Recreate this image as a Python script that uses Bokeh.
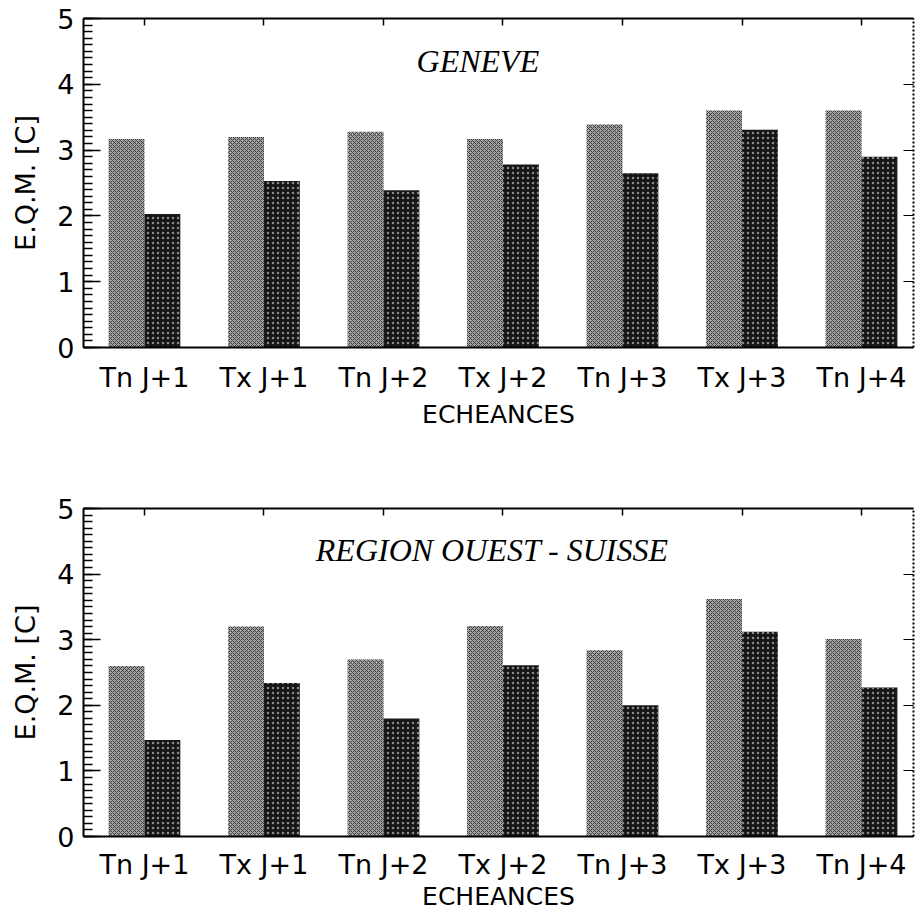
import numpy as np
from bokeh.plotting import figure
from bokeh.layouts import column
from bokeh.models import LinearAxis, FixedTicker, Range1d, Label
from bokeh.embed import file_html
from bokeh.resources import INLINE

categories = ["Tn J+1", "Tx J+1", "Tn J+2", "Tx J+2", "Tn J+3", "Tx J+3", "Tn J+4"]
geneve_light = [3.17, 3.20, 3.28, 3.17, 3.39, 3.60, 3.60]
geneve_dark = [2.03, 2.53, 2.39, 2.78, 2.65, 3.31, 2.90]
region_light = [2.60, 3.20, 2.70, 3.21, 2.84, 3.62, 3.01]
region_dark = [1.47, 2.34, 1.80, 2.61, 2.00, 3.12, 2.27]
y_ticks = [0, 1, 2, 3, 4, 5]
x_title = "ECHEANCES"
y_title = "E.Q.M. [C]"
panel_titles = ["GENEVE", "REGION OUEST - SUISSE"]

TICK_FONT = "DejaVu Sans"
TITLE_FONT = "Liberation Serif"


def make_panel(light, dark, title, title_x, height, border_top, border_bottom,
               tick_standoff, label_standoff):
    pos = np.arange(len(categories))
    p = figure(width=915, height=height, output_backend="svg", toolbar_location=None,
               x_range=Range1d(-0.51, 6.435), y_range=Range1d(0, 5),
               min_border_left=83, min_border_right=2,
               min_border_top=border_top, min_border_bottom=border_bottom,
               x_axis_location=None, y_axis_location=None)
    p.outline_line_color = None
    p.xgrid.visible = False
    p.ygrid.visible = False
    p.background_fill_color = "white"
    p.border_fill_color = "white"

    p.vbar(x=pos - 0.15, top=light, width=0.3, bottom=0,
           fill_color="#a4a4a4", line_color=None,
           hatch_pattern="diagonal_cross", hatch_scale=4, hatch_color="#3c3c3c", hatch_weight=1)
    p.vbar(x=pos + 0.15, top=dark, width=0.3, bottom=0,
           fill_color="#161616", line_color=None,
           hatch_pattern="dot", hatch_scale=5, hatch_color="#8a8a8a", hatch_weight=1)

    labels = {int(i): c for i, c in zip(pos, categories)}

    # bottom axis
    xb = LinearAxis(ticker=FixedTicker(ticks=list(pos)), major_label_overrides=labels)
    xb.major_label_text_font = TICK_FONT
    xb.major_label_text_font_size = "27px"
    xb.major_label_text_color = "black"
    xb.major_label_standoff = tick_standoff
    xb.major_tick_in = 0
    xb.major_tick_out = 0
    xb.minor_tick_in = 0
    xb.minor_tick_out = 0
    xb.axis_line_width = 2
    xb.axis_line_color = "black"
    xb.axis_label = x_title
    xb.axis_label_text_font = TICK_FONT
    xb.axis_label_text_font_size = "25px"
    xb.axis_label_text_font_style = "normal"
    xb.axis_label_text_color = "black"
    xb.axis_label_standoff = label_standoff
    p.add_layout(xb, "below")

    # top axis (ticks only)
    xt = LinearAxis(ticker=FixedTicker(ticks=list(pos)), major_label_text_color=None,
                    major_label_text_font_size="10px", major_label_standoff=0)
    xt.major_tick_in = 7
    xt.major_tick_out = 0
    xt.minor_tick_in = 0
    xt.minor_tick_out = 0
    xt.axis_line_width = 2
    xt.major_tick_line_width = 1.5
    p.add_layout(xt, "above")

    # left axis
    yl = LinearAxis(ticker=FixedTicker(ticks=y_ticks,
                                       minor_ticks=[i / 10 for i in range(0, 51)]))
    yl.axis_label = y_title
    yl.axis_label_text_font = TICK_FONT
    yl.axis_label_text_font_size = "27px"
    yl.axis_label_text_font_style = "normal"
    yl.axis_label_text_color = "black"
    yl.axis_label_standoff = 13
    yl.major_label_text_font = TICK_FONT
    yl.major_label_text_font_size = "27px"
    yl.major_label_text_color = "black"
    yl.major_label_standoff = 9
    yl.major_tick_in = 17
    yl.major_tick_out = 0
    yl.minor_tick_in = 9
    yl.minor_tick_out = 0
    yl.major_tick_line_width = 1.5
    yl.minor_tick_line_width = 1.5
    yl.axis_line_width = 2
    p.add_layout(yl, "left")

    # right axis (dotted, ticks only)
    yr = LinearAxis(ticker=FixedTicker(ticks=y_ticks), major_label_text_color=None,
                    major_label_text_font_size="10px", major_label_standoff=0)
    yr.major_tick_in = 10
    yr.major_tick_out = 0
    yr.minor_tick_in = 0
    yr.minor_tick_out = 0
    yr.axis_line_width = 2
    yr.axis_line_dash = "2 2"
    p.add_layout(yr, "right")

    p.add_layout(Label(x=title_x, y=4.36, text=title, text_align="center",
                       text_baseline="middle", text_font=TITLE_FONT,
                       text_font_style="italic", text_font_size="32px",
                       text_color="black"))
    return p


p1 = make_panel(geneve_light, geneve_dark, panel_titles[0], 2.79, 460, 18, 113, 14, 4)
p2 = make_panel(region_light, region_dark, panel_titles[1], 2.91, 453, 48, 76, 12, -1)

layout = column(p1, p2, spacing=0)
open("out.html", "w").write(file_html(layout, INLINE))
